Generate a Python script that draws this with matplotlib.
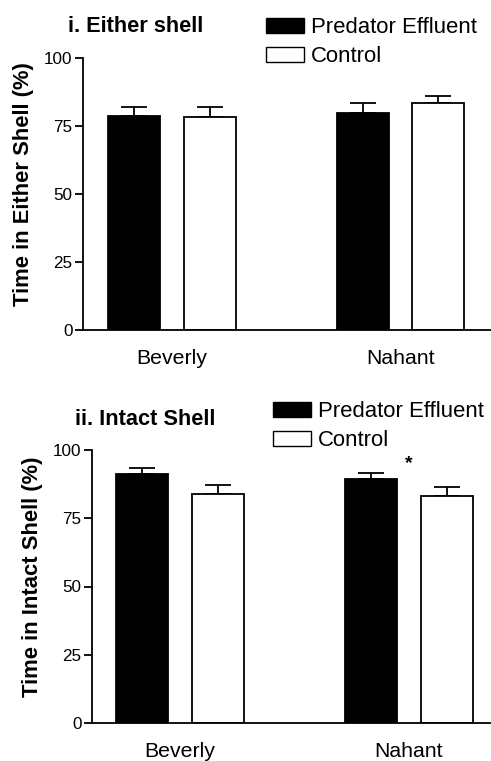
import matplotlib
matplotlib.use("Agg")
import matplotlib.pyplot as plt
import numpy as np
from matplotlib.patches import Patch

plt.rcParams['font.family'] = ['Liberation Sans', 'DejaVu Sans']

sites = ["Beverly", "Nahant"]
series = ["Predator Effluent", "Control"]
colors = ["black", "white"]

either_mean = {"Predator Effluent": [78.4, 79.8], "Control": [78.2, 83.4]}
either_err = {"Predator Effluent": [3.5, 3.6], "Control": [3.7, 2.6]}
intact_mean = {"Predator Effluent": [91.2, 89.5], "Control": [84.0, 83.1]}
intact_err = {"Predator Effluent": [2.2, 2.2], "Control": [3.1, 3.5]}

titles = ["i. Either shell", "ii. Intact Shell"]
ylabels = ["Time in Either Shell (%)", "Time in Intact Shell (%)"]
yticks = [0, 25, 50, 75, 100]

W, H = 491, 761
fig = plt.figure(figsize=(W / 100, H / 100), dpi=100)

def px_axes(left, right, top, bottom):
    return fig.add_axes([left / W, 1 - bottom / H, (right - left) / W, (bottom - top) / H])

panels = [
    dict(ax=px_axes(83, 491, 57.5, 330), xlim=(-0.39, 1.396), means=either_mean, errs=either_err,
         title_xy=(68, 32), leg_xy=(266, 17), lab=(-0.147, 0.534)),
    dict(ax=px_axes(92, 491, 450.3, 722.7), xlim=(-0.384, 1.358), means=intact_mean, errs=intact_err,
         title_xy=(75, 425), leg_xy=(273, 401), lab=(-0.150, 0.535)),
]

width = 0.2275
offsets = [-0.166, 0.166]
x = np.arange(len(sites))

for i, p in enumerate(panels):
    ax = p["ax"]
    for j, s in enumerate(series):
        ax.bar(x + offsets[j], p["means"][s], width, color=colors[j], edgecolor="black",
               linewidth=1.3, zorder=2)
        ax.errorbar(x + offsets[j], p["means"][s],
                    yerr=[np.zeros(len(sites)), p["errs"][s]], fmt="none",
                    ecolor="black", elinewidth=1.3, capsize=9.4, capthick=1.3, zorder=1)
    ax.set_xlim(*p["xlim"])
    ax.set_ylim(0, 100)
    ax.set_yticks(yticks)
    ax.set_xticks(x)
    ax.set_xticklabels(sites, fontsize=15.3)
    ax.tick_params(axis="x", length=0, pad=14)
    ax.tick_params(axis="y", length=6, width=1.3, pad=1.5, labelsize=12.3)
    for sp in ["top", "right"]:
        ax.spines[sp].set_visible(False)
    for sp in ["left", "bottom"]:
        ax.spines[sp].set_linewidth(1.3)
    ax.set_ylabel(ylabels[i], fontsize=15.8, fontweight="bold")
    ax.yaxis.label.set_va("center")
    ax.yaxis.set_label_coords(*p["lab"])
    tx, ty = p["title_xy"]
    fig.text(tx / W, 1 - ty / H, titles[i], fontsize=15.7, fontweight="bold",
             ha="left", va="baseline")
    handles = [Patch(facecolor=c, edgecolor="black", linewidth=1.0) for c in colors]
    lx, ly = p["leg_xy"]
    fig.legend(handles, series, loc="upper left", bbox_to_anchor=(lx / W, 1 - ly / H),
               frameon=False, fontsize=15.9, handlelength=1.72, handleheight=0.65,
               handletextpad=0.33, labelspacing=0.38, borderpad=0, borderaxespad=0)

panels[1]["ax"].text(1.0, 95.3, "*", fontsize=14, fontweight="bold", ha="center", va="center")

fig.savefig("out.png", dpi=100)
